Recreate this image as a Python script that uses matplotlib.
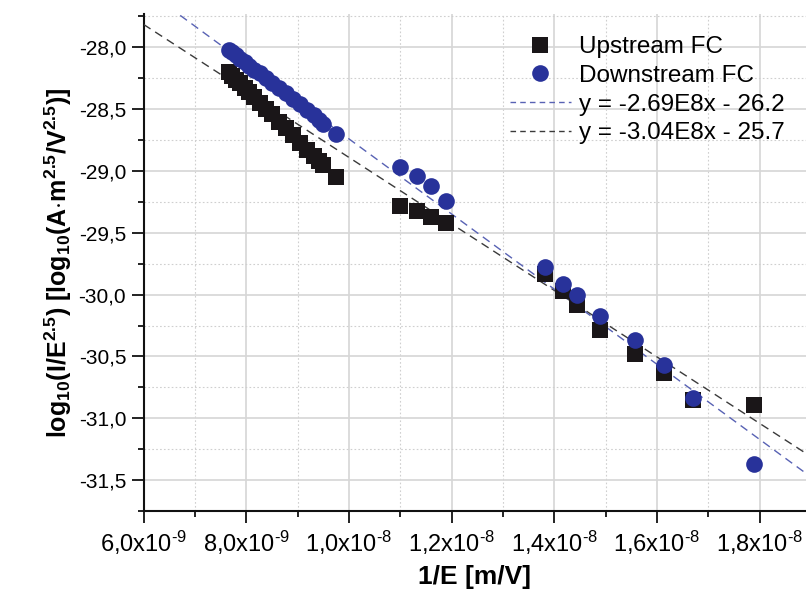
import matplotlib
matplotlib.use("Agg")
import matplotlib.pyplot as plt
from matplotlib.lines import Line2D
from matplotlib.ticker import MultipleLocator, FuncFormatter
import numpy as np

plt.rcParams['font.family'] = ['Liberation Sans', 'DejaVu Sans']
plt.rcParams['mathtext.fontset'] = 'custom'
plt.rcParams['mathtext.rm'] = 'Liberation Sans'
plt.rcParams['mathtext.it'] = 'Liberation Sans:italic'
plt.rcParams['mathtext.bf'] = 'Liberation Sans:bold'

# 1/E [m/V], shared by both Faraday cups
inv_e = np.array([7.66, 7.73, 7.80, 7.88, 7.97, 8.06, 8.16, 8.27, 8.38, 8.50,
                  8.63, 8.77, 8.91, 9.05, 9.19, 9.32, 9.42, 9.50, 9.75,
                  10.99, 11.32, 11.60, 11.89,
                  13.82, 14.16, 14.45, 14.88, 15.57, 16.13, 16.69, 17.88]) * 1e-9

upstream = [-28.20, -28.23, -28.26, -28.29, -28.33, -28.36, -28.40, -28.45, -28.50, -28.54,
            -28.60, -28.65, -28.71, -28.77, -28.83, -28.88, -28.92, -28.95, -29.05,
            -29.28, -29.32, -29.37, -29.42,
            -29.83, -29.97, -30.08, -30.29, -30.48, -30.63, -30.85, -30.89]

downstream = [-28.02, -28.04, -28.06, -28.09, -28.12, -28.15, -28.18, -28.21, -28.25, -28.29,
              -28.33, -28.37, -28.42, -28.46, -28.51, -28.55, -28.59, -28.62, -28.70,
              -28.97, -29.04, -29.12, -29.24,
              -29.78, -29.91, -30.00, -30.17, -30.37, -30.57, -30.84, -31.37]

# linear fits: slope, intercept
fit_up = (-2.69e8, -26.2)
fit_down = (-3.04e8, -25.7)

xticks = [6e-9, 8e-9, 1e-8, 1.2e-8, 1.4e-8, 1.6e-8, 1.8e-8]
xtick_labels = [r'6,0x10$^{\text{-9}}$', r'8,0x10$^{\text{-9}}$', r'1,0x10$^{\text{-8}}$',
                r'1,2x10$^{\text{-8}}$', r'1,4x10$^{\text{-8}}$', r'1,6x10$^{\text{-8}}$',
                r'1,8x10$^{\text{-8}}$']

navy = '#28329a'
black = '#1a1618'
line_blue = '#5862b4'
line_black = '#3a3a3a'

fig = plt.figure(figsize=(8.06, 6.08), dpi=100)
ax = fig.add_axes([143.5 / 806, 1 - 511 / 608, 1 - 143.5 / 806, (511 - 14) / 608])

xlim = (6e-9, 1.89e-8)
xs = np.array(xlim)
ax.plot(xs, fit_up[0] * xs + fit_up[1], ls=(0, (6, 4)), color=line_black, lw=1.0, zorder=3)
ax.plot(xs, fit_down[0] * xs + fit_down[1], ls=(0, (6, 4)), color=line_blue, lw=1.0, zorder=3)

ax.plot(inv_e, upstream, 's', color=black, ms=11, mew=0, zorder=4)
ax.plot(inv_e, downstream, 'o', color=navy, ms=12, mew=0, zorder=5)

ax.set_xlim(*xlim)
ax.set_ylim(-31.75, -27.73)

ax.set_xticks(xticks)
ax.set_xticklabels(xtick_labels)
ax.xaxis.set_minor_locator(MultipleLocator(1e-9))
ax.yaxis.set_major_locator(MultipleLocator(0.5))
ax.yaxis.set_minor_locator(MultipleLocator(0.25))
ax.yaxis.set_major_formatter(FuncFormatter(lambda v, p: f'{v:.1f}'.replace('.', ',')))

ax.grid(which='major', color='#d6d6d6', lw=1.2, ls='-')
ax.grid(which='minor', color='#cfcfcf', lw=0.8, ls=(0, (1.5, 2)))
ax.set_axisbelow(True)

for side in ['top', 'right']:
    ax.spines[side].set_visible(False)
for side in ['left', 'bottom']:
    ax.spines[side].set_linewidth(1.5)
    ax.spines[side].set_color('#111111')

ax.tick_params(which='major', direction='out', length=8.5, width=1.3, color='#111111')
ax.tick_params(which='minor', direction='out', length=4, width=1.3, color='#111111')
ax.tick_params(axis='y', which='major', labelsize=15, pad=4)
ax.tick_params(axis='x', which='major', labelsize=17, pad=4)

ax.set_xlabel('1/E [m/V]', fontsize=19, fontweight='bold', labelpad=6)
ax.set_ylabel(r'log$_{\mathbf{10}}$(I/E$^{\mathbf{2.5}}$) [log$_{\mathbf{10}}$(A$\cdot$m$^{\mathbf{2.5}}$/V$^{\mathbf{2.5}}$)]',
              fontsize=18, fontweight='bold', labelpad=3)

handles = [
    Line2D([], [], marker='s', ls='none', color=black, ms=11, mew=0),
    Line2D([], [], marker='o', ls='none', color=navy, ms=12, mew=0),
    Line2D([], [], ls=(0, (4, 3)), color=line_blue, lw=1.0),
    Line2D([], [], ls=(0, (4, 3)), color=line_black, lw=1.0),
]
labels = ['Upstream FC', 'Downstream FC',
          f'y = {fit_up[0] / 1e8:.2f}E8x - {-fit_up[1]:.1f}',
          f'y = {fit_down[0] / 1e8:.2f}E8x - {-fit_down[1]:.1f}']
ax.legend(handles, labels, loc='upper left', bbox_to_anchor=(0.553, 0.955), frameon=False,
          fontsize=17.5, handlelength=2.5, handletextpad=0.35, labelspacing=0.27,
          borderpad=0, borderaxespad=0)

fig.savefig('out.png', dpi=100)
